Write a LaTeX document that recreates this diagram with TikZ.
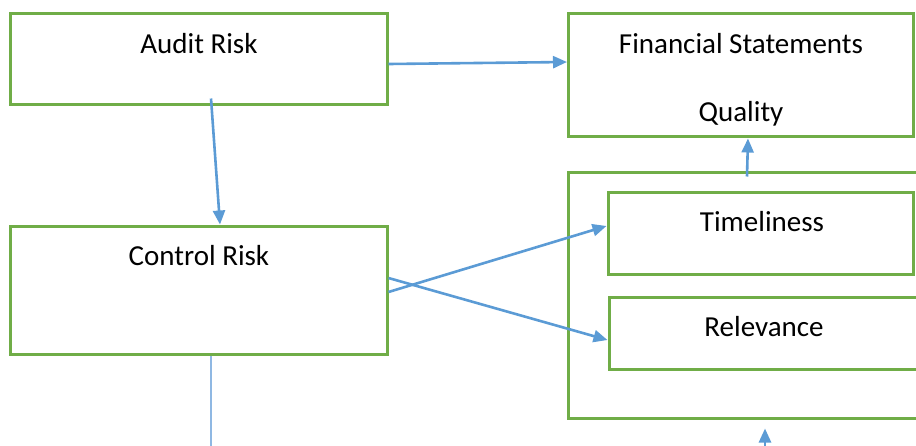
\documentclass[tikz,border=0pt]{standalone}
\usepackage{fontspec}
\setmainfont{Carlito}
\usetikzlibrary{arrows.meta,calc}
\definecolor{boxgreen}{HTML}{70AD47}
\definecolor{arrowblue}{HTML}{5B9BD5}
\definecolor{lightblue}{HTML}{8FB8E3}
\tikzset{
  box/.style={draw=boxgreen, line width=3pt, rectangle, inner sep=0pt},
  lbl/.style={anchor=base, inner sep=0pt, font=\fontsize{29}{34}\selectfont},
  conn/.style={draw=arrowblue, line width=2.6pt, -{Triangle[length=14pt,width=12pt]}},
  thin/.style={draw=lightblue, line width=1.5pt}
}
\begin{document}
\begin{tikzpicture}[x=1pt,y=-1pt]
\useasboundingbox (0,0) rectangle (916,445);
\clip (0,0) rectangle (916,445);
% boxes
\node[box, minimum width=377pt, minimum height=91pt] (ar) at (198.5,58.5) {};
\node[box, minimum width=345pt, minimum height=123pt] (fsq) at (740.5,74.5) {};
\node[box, minimum width=377pt, minimum height=128pt] (cr) at (198.5,290) {};
\node[box, minimum width=357pt, minimum height=246pt] (ct) at (746.5,295) {};
\node[box, minimum width=305pt, minimum height=82pt] (tm) at (760.5,233) {};
\node[box, minimum width=316pt, minimum height=72pt] (rl) at (767,333) {};
% texts
\node[lbl] (tar) at (199,53) {Audit Risk};
\node[lbl] (tfs1) at (741,53.5) {Financial Statements};
\node[lbl] (tfs2) at (741,121) {Quality};
\node[lbl] (tcr) at (199,265) {Control Risk};
\node[lbl] (ttm) at (762,231) {Timeliness};
\node[lbl] (trl) at (764,336.5) {Relevance};
% connectors
\draw[conn] ($(ar.east)+(0,5.5)$) -- ($(fsq.west)+(0.5,-12.5)$);
\draw[conn] ($(ar.south)+(12.5,-7)$) -- ($(cr.north)+(21.5,0)$);
\draw[conn] ($(cr.east)+(0,2)$) -- ($(tm.west)+(0,-7)$);
\draw[conn] ($(cr.east)+(0,-12)$) -- ($(rl.west)+(0,7)$);
\draw[conn] ($(ct.north)+(0.5,6)$) -- ($(fsq.south)+(7.5,1)$);
\coordinate (crdown) at ($(cr.south)+(12.5,95)$);
\draw[thin] ($(cr.south)+(12.5,0)$) -- (crdown);
\coordinate (ctup) at ($(ct.south)+(18.5,35)$);
\draw[conn] (ctup) -- ($(ct.south)+(18.5,9)$);
\end{tikzpicture}
\end{document}
